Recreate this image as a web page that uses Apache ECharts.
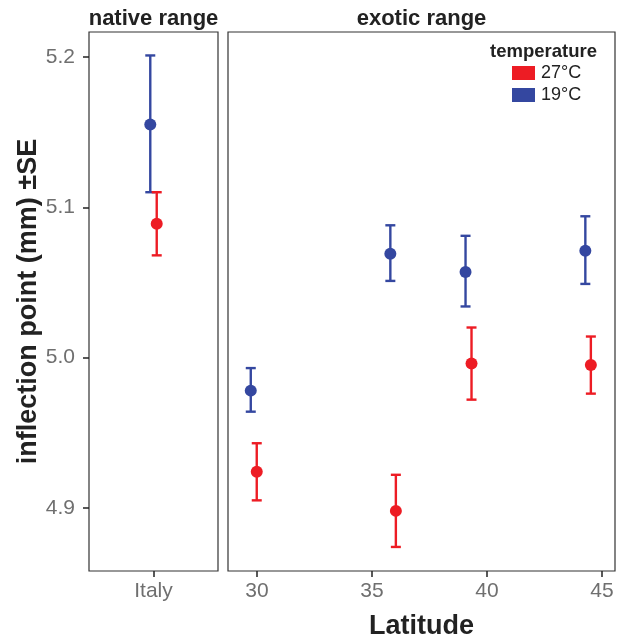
<!DOCTYPE html>
<html><head><meta charset="utf-8">
<script src="https://cdn.jsdelivr.net/npm/echarts@6/dist/echarts.min.js"></script>
<style>html,body{margin:0;padding:0;background:#fff}#c{width:617px;height:640px}</style>
</head><body><div id="c"></div>
<script>
// ---- data ----
const nativeCategories = ['Italy'];
const panelTitles = ['native range', 'exotic range'];
const seriesNames = ['27°C', '19°C'];
const yTicks = [4.9, 5.0, 5.1, 5.2];
const xTicks = [30, 35, 40, 45];

// native range (Italy), x offsets are the dodge positions
const italyRedX = [0.05];
const italyRedMean = [5.089];
const italyRedLow = [5.068];
const italyRedHigh = [5.110];
const italyBlueX = [-0.05];
const italyBlueMean = [5.155];
const italyBlueLow = [5.110];
const italyBlueHigh = [5.201];

// exotic range (latitude)
const latRed = [29.99, 36.04, 39.33, 44.52];
const redMean = [4.924, 4.898, 4.996, 4.995];
const redLow = [4.905, 4.874, 4.972, 4.976];
const redHigh = [4.943, 4.922, 5.020, 5.014];
const latBlue = [29.73, 35.80, 39.07, 44.28];
const blueMean = [4.978, 5.069, 5.057, 5.071];
const blueLow = [4.964, 5.051, 5.034, 5.049];
const blueHigh = [4.993, 5.088, 5.081, 5.094];

const RED = '#ED1C24';
const BLUE = '#3447A0';
const FONT = 'Liberation Sans, Arial, sans-serif';
const Y_MIN = 4.858, Y_MAX = 5.2166;

function zip3(a, b, c) { return a.map((v, i) => [v, b[i], c[i]]); }
function zip2(a, b) { return a.map((v, i) => [v, b[i]]); }

function errRender(color) {
  return function (params, api) {
    const x = api.value(0), lo = api.value(1), hi = api.value(2);
    const p1 = api.coord([x, lo]);
    const p2 = api.coord([x, hi]);
    const cw = 5;
    const st = { stroke: color, lineWidth: 2.4 };
    return {
      type: 'group',
      children: [
        { type: 'line', shape: { x1: p1[0], y1: p1[1], x2: p2[0], y2: p2[1] }, style: st },
        { type: 'line', shape: { x1: p1[0] - cw, y1: p1[1], x2: p1[0] + cw, y2: p1[1] }, style: st },
        { type: 'line', shape: { x1: p2[0] - cw, y1: p2[1], x2: p2[0] + cw, y2: p2[1] }, style: st }
      ]
    };
  };
}

function errSeries(name, color, xi, data) {
  return {
    name: name, type: 'custom', xAxisIndex: xi, yAxisIndex: xi,
    renderItem: errRender(color), itemStyle: { color: color },
    encode: { x: 0, y: [1, 2] }, data: data, silent: true, z: 2
  };
}
function dotSeries(name, color, xi, data) {
  return {
    name: name, type: 'scatter', xAxisIndex: xi, yAxisIndex: xi,
    symbol: 'circle', symbolSize: 12, itemStyle: { color: color, opacity: 1 },
    data: data, silent: true, z: 3
  };
}

const tickLabelStyle = { color: '#6f6f6f', fontSize: 21, fontFamily: FONT };
const tickLine = { color: '#222', width: 1.5 };

const chart = echarts.init(document.getElementById('c'), null, { renderer: 'canvas' });
chart.setOption({
  animation: false,
  backgroundColor: '#fff',
  title: [
    { text: panelTitles[0], left: 153.5, top: 8, padding: 0, textAlign: 'center',
      textStyle: { fontSize: 22, fontWeight: 'bold', color: '#222', fontFamily: FONT } },
    { text: panelTitles[1], left: 421.5, top: 8, padding: 0, textAlign: 'center',
      textStyle: { fontSize: 22, fontWeight: 'bold', color: '#222', fontFamily: FONT } },
    { text: 'temperature', left: 490, top: 42, padding: 0,
      textStyle: { fontSize: 18.5, fontWeight: 'bold', color: '#222', fontFamily: FONT } }
  ],
  legend: {
    data: seriesNames, orient: 'vertical', left: 512, top: 64, padding: 0,
    icon: 'rect', itemWidth: 23, itemHeight: 14, itemGap: 4,
    textStyle: { fontSize: 18, color: '#222', fontFamily: FONT, padding: [0, 0, 0, 1] },
    selectedMode: false
  },
  grid: [
    { left: 89, top: 32, width: 129, height: 539, show: true, borderColor: '#333', borderWidth: 1.2,
      backgroundColor: 'transparent', outerBoundsMode: 'none', containLabel: false },
    { left: 228, top: 32, width: 387, height: 539, show: true, borderColor: '#333', borderWidth: 1.2,
      backgroundColor: 'transparent', outerBoundsMode: 'none', containLabel: false }
  ],
  xAxis: [
    { type: 'value', gridIndex: 0, min: -1, max: 1, position: 'bottom',
      axisLine: { show: false, onZero: false }, splitLine: { show: false },
      axisTick: { show: true, length: 6, customValues: [0], lineStyle: tickLine },
      axisLabel: Object.assign({ customValues: [0], formatter: () => nativeCategories[0], margin: 10 }, tickLabelStyle) },
    { type: 'value', gridIndex: 1, min: 28.74, max: 45.57, position: 'bottom',
      name: 'Latitude', nameLocation: 'middle', nameGap: 42,
      nameTextStyle: { fontSize: 27, fontWeight: 'bold', color: '#222', fontFamily: FONT },
      axisLine: { show: false, onZero: false }, splitLine: { show: false },
      axisTick: { show: true, length: 6, customValues: xTicks, lineStyle: tickLine },
      axisLabel: Object.assign({ customValues: xTicks, formatter: v => String(v), margin: 10 }, tickLabelStyle) }
  ],
  yAxis: [
    { type: 'value', gridIndex: 0, min: Y_MIN, max: Y_MAX, position: 'left',
      name: 'inflection point (mm) ±SE', nameLocation: 'middle', nameGap: 46, nameRotate: 90,
      nameTextStyle: { fontSize: 27, fontWeight: 'bold', color: '#222', fontFamily: FONT },
      axisLine: { show: false, onZero: false }, splitLine: { show: false },
      axisTick: { show: true, length: 6, customValues: yTicks, lineStyle: tickLine },
      axisLabel: Object.assign({ customValues: yTicks, formatter: v => v.toFixed(1), margin: 14 }, tickLabelStyle) },
    { type: 'value', gridIndex: 1, min: Y_MIN, max: Y_MAX, position: 'left',
      axisLine: { show: false, onZero: false }, splitLine: { show: false },
      axisTick: { show: false }, axisLabel: { show: false } }
  ],
  series: [
    errSeries(seriesNames[1], BLUE, 0, zip3(italyBlueX, italyBlueLow, italyBlueHigh)),
    errSeries(seriesNames[0], RED, 0, zip3(italyRedX, italyRedLow, italyRedHigh)),
    dotSeries(seriesNames[1], BLUE, 0, zip2(italyBlueX, italyBlueMean)),
    dotSeries(seriesNames[0], RED, 0, zip2(italyRedX, italyRedMean)),
    errSeries(seriesNames[1], BLUE, 1, zip3(latBlue, blueLow, blueHigh)),
    errSeries(seriesNames[0], RED, 1, zip3(latRed, redLow, redHigh)),
    dotSeries(seriesNames[1], BLUE, 1, zip2(latBlue, blueMean)),
    dotSeries(seriesNames[0], RED, 1, zip2(latRed, redMean))
  ]
});
</script></body></html>
